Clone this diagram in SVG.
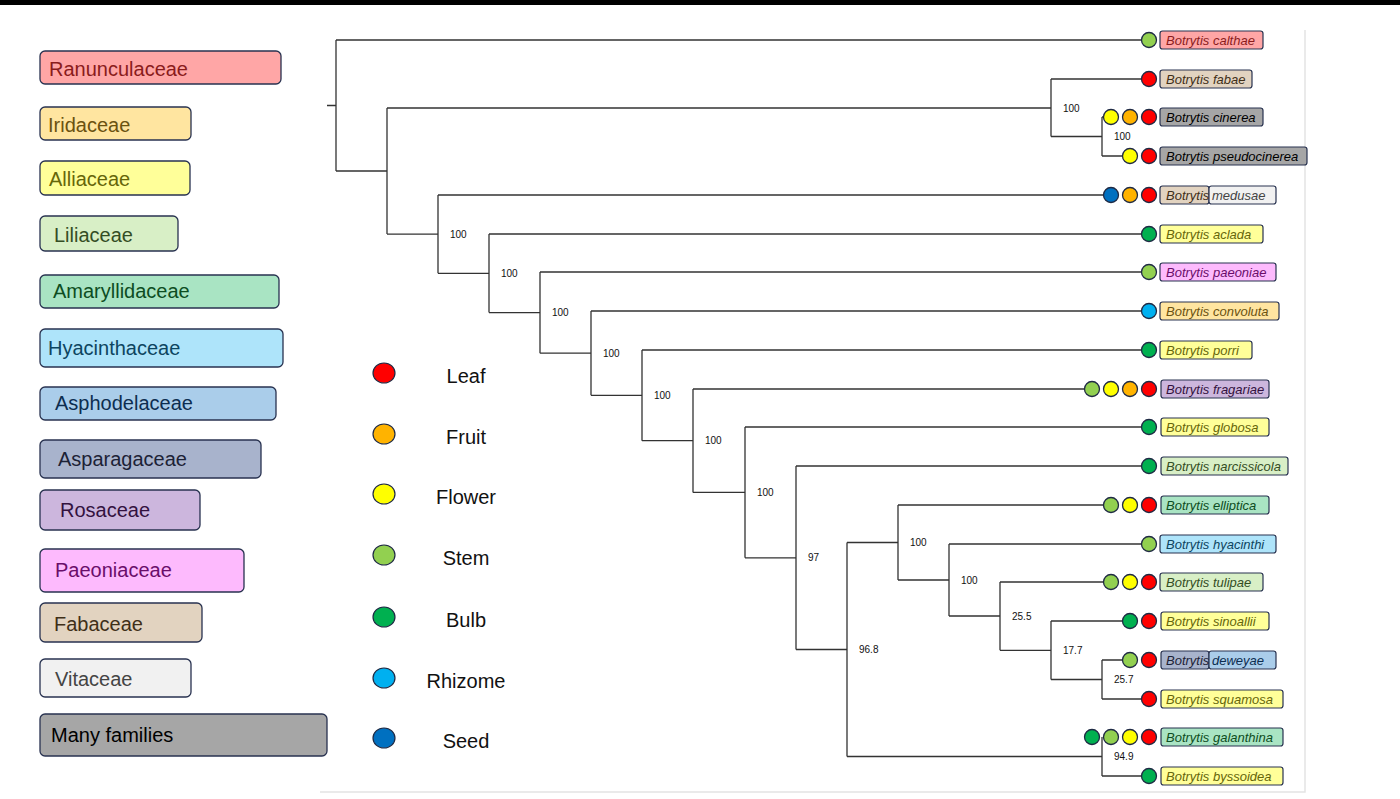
<svg xmlns="http://www.w3.org/2000/svg" width="1400" height="799" viewBox="0 0 1400 799">
<style>
.fam rect{stroke:#283250;stroke-width:1.3}
.fam text{font-family:"Liberation Sans",Arial,sans-serif;font-size:20px}
.tip rect{stroke:#283250;stroke-width:1.2}
.tip text{font-family:"Liberation Sans",Arial,sans-serif;font-size:13px;font-style:italic}
.key text{font-family:"Liberation Sans",Arial,sans-serif;font-size:20px;fill:#111;text-anchor:middle}
.key ellipse{stroke:#1f2a44;stroke-width:1.2}
circle{stroke:#1f2a44;stroke-width:1.3}
.leaf{fill:#ff0000}.fruit{fill:#ffb300}.flower{fill:#ffff00}.stem{fill:#92d050}.bulb{fill:#00b050}.rhiz{fill:#00b0f0}.seed{fill:#0070c0}
.edges path{fill:none;stroke:#333;stroke-width:1.3}
.bs{font-family:"Liberation Sans",Arial,sans-serif;font-size:10px;fill:#111}
.r{fill:#ffa6a6}.rt{fill:#8a1c1c}
.i{fill:#ffe5a0}.it{fill:#6b5210}
.al{fill:#ffff99}.alt{fill:#66660a}
.li{fill:#d8efc6}.lit{fill:#344d24}
.am{fill:#a9e4c3}.amt{fill:#0d4d22}
.hy{fill:#aee4fa}.hyt{fill:#0d4560}
.as{fill:#aacdea}.ast{fill:#0d2d50}
.ap{fill:#a8b3cc}.apt{fill:#1c2236}
.ro{fill:#ccb6dd}.rot{fill:#33123f}
.pa{fill:#fdbafd}.pat{fill:#6a0e6a}
.fa{fill:#e2d3c0}.fat{fill:#3f2f18}
.vi{fill:#f1f1f1}.vit{fill:#444444}
.mf{fill:#a6a6a6}.mft{fill:#000000}
</style>
<rect x="0" y="0" width="1400" height="799" fill="#ffffff"/>
<rect x="0" y="0" width="1400" height="5" fill="#000000"/>
<path d="M1305 30 V792 H320" fill="none" stroke="#e4e4e4" stroke-width="1.5"/>

<g id="families">
<g id="fam-ranunculaceae" class="fam"><rect x="40" y="51" width="241" height="33" rx="5" class="r"/><text x="49" y="76" class="rt">Ranunculaceae</text></g>
<g id="fam-iridaceae" class="fam"><rect x="40" y="107" width="151" height="33" rx="5" class="i"/><text x="48" y="132" class="it">Iridaceae</text></g>
<g id="fam-alliaceae" class="fam"><rect x="40" y="161" width="150" height="34" rx="5" class="al"/><text x="49" y="186" class="alt">Alliaceae</text></g>
<g id="fam-liliaceae" class="fam"><rect x="40" y="216" width="138" height="35" rx="5" class="li"/><text x="54" y="242" class="lit">Liliaceae</text></g>
<g id="fam-amaryllidaceae" class="fam"><rect x="40" y="275" width="239" height="33" rx="5" class="am"/><text x="53" y="298" class="amt">Amaryllidaceae</text></g>
<g id="fam-hyacinthaceae" class="fam"><rect x="40" y="329" width="243" height="38" rx="5" class="hy"/><text x="48" y="355" class="hyt">Hyacinthaceae</text></g>
<g id="fam-asphodelaceae" class="fam"><rect x="40" y="387" width="236" height="33" rx="5" class="as"/><text x="55" y="410" class="ast">Asphodelaceae</text></g>
<g id="fam-asparagaceae" class="fam"><rect x="40" y="440" width="221" height="38" rx="5" class="ap"/><text x="58" y="466" class="apt">Asparagaceae</text></g>
<g id="fam-rosaceae" class="fam"><rect x="40" y="490" width="160" height="40" rx="5" class="ro"/><text x="60" y="517" class="rot">Rosaceae</text></g>
<g id="fam-paeoniaceae" class="fam"><rect x="40" y="549" width="204" height="43" rx="5" class="pa"/><text x="55" y="577" class="pat">Paeoniaceae</text></g>
<g id="fam-fabaceae" class="fam"><rect x="40" y="603" width="162" height="39" rx="5" class="fa"/><text x="54" y="631" class="fat">Fabaceae</text></g>
<g id="fam-vitaceae" class="fam"><rect x="40" y="659" width="151" height="38" rx="5" class="vi"/><text x="55" y="686" class="vit">Vitaceae</text></g>
<g id="fam-many" class="fam"><rect x="40" y="714" width="287" height="42" rx="5" class="mf"/><text x="51" y="742" class="mft">Many families</text></g>
</g>

<g id="organ-key" class="key">
<g id="key-leaf"><ellipse cx="384" cy="373" rx="11" ry="10" class="leaf"/><text x="466" y="383">Leaf</text></g>
<g id="key-fruit"><ellipse cx="384" cy="434" rx="11" ry="10" class="fruit"/><text x="466" y="444">Fruit</text></g>
<g id="key-flower"><ellipse cx="384" cy="494" rx="11" ry="10" class="flower"/><text x="466" y="504">Flower</text></g>
<g id="key-stem"><ellipse cx="384" cy="555" rx="11" ry="10" class="stem"/><text x="466" y="565">Stem</text></g>
<g id="key-bulb"><ellipse cx="384" cy="617" rx="11" ry="10" class="bulb"/><text x="466" y="627">Bulb</text></g>
<g id="key-rhizome"><ellipse cx="384" cy="678" rx="11" ry="10" class="rhiz"/><text x="466" y="688">Rhizome</text></g>
<g id="key-seed"><ellipse cx="384" cy="738" rx="11" ry="10" class="seed"/><text x="466" y="748">Seed</text></g>
</g>

<g id="connectors" class="edges">
<path d="M327 105.5 H336 M336 40 V171 M336 40 H1149 M336 171 H387"/>
<path d="M387 108 V234.1 M387 108 H1051 M387 234.1 H438"/>
<path d="M1051 79 V136.5 M1051 79 H1149 M1051 136.5 H1102"/>
<path d="M1102 117 V156 M1102 117 H1111 M1102 156 H1130"/>
<path d="M438 195 V273.3 M438 195 H1111 M438 273.3 H489"/>
<path d="M489 234 V312.6 M489 234 H1149 M489 312.6 H540"/>
<path d="M540 272 V353.2 M540 272 H1149 M540 353.2 H591"/>
<path d="M591 311 V395.3 M591 311 H1149 M591 395.3 H642"/>
<path d="M642 350 V440.7 M642 350 H1149 M642 440.7 H693"/>
<path d="M693 389 V492.4 M693 389 H1092 M693 492.4 H745"/>
<path d="M745 427 V557.8 M745 427 H1149 M745 557.8 H796"/>
<path d="M796 466 V649.5 M796 466 H1149 M796 649.5 H847"/>
<path d="M847 542.5 V756.5 M847 542.5 H898 M847 756.5 H1102"/>
<path d="M898 505 V580 M898 505 H1111 M898 580 H949"/>
<path d="M949 544 V616 M949 544 H1149 M949 616 H1000"/>
<path d="M1000 582 V650.3 M1000 582 H1111 M1000 650.3 H1051"/>
<path d="M1051 621 V679.5 M1051 621 H1130 M1051 679.5 H1102"/>
<path d="M1102 660 V699 M1102 660 H1130 M1102 699 H1149"/>
<path d="M1102 737 V776 M1102 776 H1149"/>
</g>

<g id="support">
<text class="bs" x="1063" y="111.5">100</text>
<text class="bs" x="1114" y="140">100</text>
<text class="bs" x="450" y="237.6">100</text>
<text class="bs" x="501" y="276.8">100</text>
<text class="bs" x="552" y="316.1">100</text>
<text class="bs" x="603" y="356.7">100</text>
<text class="bs" x="654" y="398.8">100</text>
<text class="bs" x="705" y="444.2">100</text>
<text class="bs" x="757" y="495.9">100</text>
<text class="bs" x="808" y="561.3">97</text>
<text class="bs" x="859" y="653">96.8</text>
<text class="bs" x="910" y="546">100</text>
<text class="bs" x="961" y="583.5">100</text>
<text class="bs" x="1012" y="619.6">25.5</text>
<text class="bs" x="1063" y="653.8">17.7</text>
<text class="bs" x="1114" y="683">25.7</text>
<text class="bs" x="1114" y="760">94.9</text>
</g>

<g id="tip-calthae" class="tip"><circle cx="1149" cy="40" r="7.5" class="stem"/><rect x="1160" y="31" width="103" height="18" rx="2.5" class="r"/><text x="1166" y="44.5" class="rt">Botrytis calthae</text></g>
<g id="tip-fabae" class="tip"><circle cx="1149" cy="79" r="7.5" class="leaf"/><rect x="1160" y="70" width="92" height="18" rx="2.5" class="fa"/><text x="1166" y="83.5" class="fat">Botrytis fabae</text></g>
<g id="tip-cinerea" class="tip"><circle cx="1111" cy="117" r="7.5" class="flower"/><circle cx="1130" cy="117" r="7.5" class="fruit"/><circle cx="1149" cy="117" r="7.5" class="leaf"/><rect x="1160" y="108" width="103" height="18" rx="2.5" class="mf"/><text x="1166" y="121.5" class="mft">Botrytis cinerea</text></g>
<g id="tip-pseudocinerea" class="tip"><circle cx="1130" cy="156" r="7.5" class="flower"/><circle cx="1149" cy="156" r="7.5" class="leaf"/><rect x="1160" y="147" width="147" height="18" rx="2.5" class="mf"/><text x="1166" y="160.5" class="mft">Botrytis pseudocinerea</text></g>
<g id="tip-medusae" class="tip"><circle cx="1111" cy="195" r="7.5" class="seed"/><circle cx="1130" cy="195" r="7.5" class="fruit"/><circle cx="1149" cy="195" r="7.5" class="leaf"/><rect x="1160" y="186" width="49" height="18" rx="2.5" class="fa"/><rect x="1209" y="186" width="67" height="18" rx="2.5" class="vi"/><text x="1166" y="199.5" class="fat">Botrytis</text><text x="1212" y="199.5" class="vit">medusae</text></g>
<g id="tip-aclada" class="tip"><circle cx="1149" cy="234" r="7.5" class="bulb"/><rect x="1160" y="225" width="103" height="18" rx="2.5" class="al"/><text x="1166" y="238.5" class="alt">Botrytis aclada</text></g>
<g id="tip-paeoniae" class="tip"><circle cx="1149" cy="272" r="7.5" class="stem"/><rect x="1160" y="263" width="116" height="18" rx="2.5" class="pa"/><text x="1166" y="276.5" class="pat">Botrytis paeoniae</text></g>
<g id="tip-convoluta" class="tip"><circle cx="1149" cy="311" r="7.5" class="rhiz"/><rect x="1160" y="302" width="119" height="18" rx="2.5" class="i"/><text x="1166" y="315.5" class="it">Botrytis convoluta</text></g>
<g id="tip-porri" class="tip"><circle cx="1149" cy="350" r="7.5" class="bulb"/><rect x="1160" y="341" width="92" height="18" rx="2.5" class="al"/><text x="1166" y="354.5" class="alt">Botrytis porri</text></g>
<g id="tip-fragariae" class="tip"><circle cx="1092" cy="389" r="7.5" class="stem"/><circle cx="1111" cy="389" r="7.5" class="flower"/><circle cx="1130" cy="389" r="7.5" class="fruit"/><circle cx="1149" cy="389" r="7.5" class="leaf"/><rect x="1161" y="380" width="108" height="18" rx="2.5" class="ro"/><text x="1166" y="393.5" class="rot">Botrytis fragariae</text></g>
<g id="tip-globosa" class="tip"><circle cx="1149" cy="427" r="7.5" class="bulb"/><rect x="1161" y="418" width="108" height="18" rx="2.5" class="al"/><text x="1166" y="431.5" class="alt">Botrytis globosa</text></g>
<g id="tip-narcissicola" class="tip"><circle cx="1149" cy="466" r="7.5" class="bulb"/><rect x="1161" y="457" width="127" height="18" rx="2.5" class="li"/><text x="1166" y="470.5" class="lit">Botrytis narcissicola</text></g>
<g id="tip-elliptica" class="tip"><circle cx="1111" cy="505" r="7.5" class="stem"/><circle cx="1130" cy="505" r="7.5" class="flower"/><circle cx="1149" cy="505" r="7.5" class="leaf"/><rect x="1161" y="496" width="108" height="18" rx="2.5" class="am"/><text x="1166" y="509.5" class="amt">Botrytis elliptica</text></g>
<g id="tip-hyacinthi" class="tip"><circle cx="1149" cy="544" r="7.5" class="stem"/><rect x="1160" y="535" width="116" height="18" rx="2.5" class="hy"/><text x="1166" y="548.5" class="hyt">Botrytis hyacinthi</text></g>
<g id="tip-tulipae" class="tip"><circle cx="1111" cy="582" r="7.5" class="stem"/><circle cx="1130" cy="582" r="7.5" class="flower"/><circle cx="1149" cy="582" r="7.5" class="leaf"/><rect x="1160" y="573" width="103" height="18" rx="2.5" class="li"/><text x="1166" y="586.5" class="lit">Botrytis tulipae</text></g>
<g id="tip-sinoallii" class="tip"><circle cx="1130" cy="621" r="7.5" class="bulb"/><circle cx="1149" cy="621" r="7.5" class="leaf"/><rect x="1161" y="612" width="108" height="18" rx="2.5" class="al"/><text x="1166" y="625.5" class="alt">Botrytis sinoallii</text></g>
<g id="tip-deweyae" class="tip"><circle cx="1130" cy="660" r="7.5" class="stem"/><circle cx="1149" cy="660" r="7.5" class="leaf"/><rect x="1161" y="651" width="48" height="18" rx="2.5" class="ap"/><rect x="1209" y="651" width="67" height="18" rx="2.5" class="as"/><text x="1166" y="664.5" class="apt">Botrytis</text><text x="1212" y="664.5" class="ast">deweyae</text></g>
<g id="tip-squamosa" class="tip"><circle cx="1149" cy="699" r="7.5" class="leaf"/><rect x="1161" y="690" width="122" height="18" rx="2.5" class="al"/><text x="1166" y="703.5" class="alt">Botrytis squamosa</text></g>
<g id="tip-galanthina" class="tip"><circle cx="1092" cy="737" r="7.5" class="bulb"/><circle cx="1111" cy="737" r="7.5" class="stem"/><circle cx="1130" cy="737" r="7.5" class="flower"/><circle cx="1149" cy="737" r="7.5" class="leaf"/><rect x="1161" y="728" width="122" height="18" rx="2.5" class="am"/><text x="1166" y="741.5" class="amt">Botrytis galanthina</text></g>
<g id="tip-byssoidea" class="tip"><circle cx="1149" cy="776" r="7.5" class="bulb"/><rect x="1161" y="767" width="122" height="18" rx="2.5" class="al"/><text x="1166" y="780.5" class="alt">Botrytis byssoidea</text></g>
</svg>
